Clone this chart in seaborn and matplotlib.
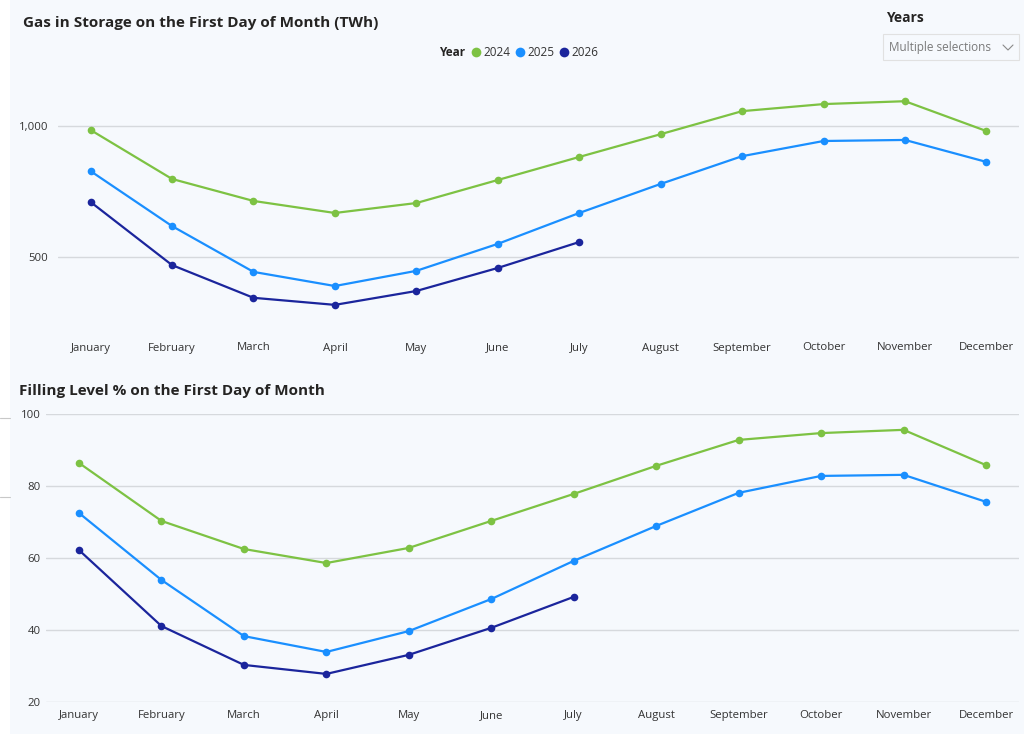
import numpy as np
import pandas as pd
import matplotlib.pyplot as plt
import matplotlib.patches as mpatches
from matplotlib.lines import Line2D
import seaborn as sns

months = ['January', 'February', 'March', 'April', 'May', 'June', 'July',
          'August', 'September', 'October', 'November', 'December']
years = ['2024', '2025', '2026']

# gas in storage, TWh
twh_2024 = [985, 798, 714, 668, 706, 794, 882, 969, 1057, 1084, 1095, 981]
twh_2025 = [828, 618, 443, 389, 447, 550, 668, 779, 885, 943, 947, 863]
twh_2026 = [710, 469, 344, 317, 370, 458, 557]

# filling level %
pct_2024 = [86.4, 70.3, 62.5, 58.6, 62.8, 70.3, 77.8, 85.6, 92.8, 94.7, 95.6, 85.8]
pct_2025 = [72.5, 53.9, 38.3, 33.9, 39.7, 48.6, 59.2, 68.9, 78.1, 82.8, 83.1, 75.6]
pct_2026 = [62.2, 41.1, 30.3, 27.8, 33.1, 40.6, 49.2]

colors = {'2024': '#7DC243', '2025': '#1A8FFF', '2026': '#1B259C'}
bg = '#F6F9FD'

rows = []
for yr, tw, pc in [('2024', twh_2024, pct_2024), ('2025', twh_2025, pct_2025),
                   ('2026', twh_2026, pct_2026)]:
    for i in range(len(tw)):
        rows.append({'month': months[i], 'year': yr, 'twh': tw[i], 'pct': pc[i]})
df = pd.DataFrame(rows)

sns.set_style('white')
plt.rcParams['font.family'] = ['Open Sans', 'DejaVu Sans']

W, H = 1024, 734
fig = plt.figure(figsize=(W / 100, H / 100), dpi=100, facecolor=bg)
fig.add_artist(mpatches.Rectangle((0, 0), 10 / W, 1, transform=fig.transFigure,
                                  facecolor='white', edgecolor='none', zorder=0))
for yy in [418, 497]:
    fig.add_artist(Line2D([0, 10 / W], [1 - yy / H, 1 - yy / H], transform=fig.transFigure,
                          color='#C8C8C8', lw=0.8))


def px_axes(x0, y0, x1, y1):
    return fig.add_axes([x0 / W, 1 - y1 / H, (x1 - x0) / W, (y1 - y0) / H])


ax1 = px_axes(58, 80, 1019, 330)
ax2 = px_axes(46, 414, 1019, 702)

for ax, col in [(ax1, 'twh'), (ax2, 'pct')]:
    ax.set_facecolor(bg)
    sns.lineplot(data=df, x='month', y=col, hue='year', palette=colors, marker='o',
                 markersize=5.5, markeredgewidth=0, linewidth=1.6, sort=False,
                 legend=False, ax=ax)
    ax.set_xlim(-0.4, 11.4)
    ax.set_xlabel('')
    ax.set_ylabel('')
    for s in ax.spines.values():
        s.set_visible(False)
    ax.grid(axis='y', color='#D6D9DD', lw=1)
    ax.set_axisbelow(True)
    ax.tick_params(axis='both', length=0, labelsize=8.2, labelcolor='#333333')

ax1.set_ylim(221, 1176)
ax1.set_yticks([500, 1000])
ax1.set_yticklabels(['500', '1,000'])
ax1.tick_params(axis='y', pad=7)
ax1.tick_params(axis='x', pad=9)

ax2.set_ylim(20, 100)
ax2.set_yticks([20, 40, 60, 80, 100])
ax2.tick_params(axis='y', pad=4)
ax2.tick_params(axis='x', pad=6)

fig.text(23 / W, 1 - 23 / H, 'Gas in Storage on the First Day of Month (TWh)',
         fontsize=11, fontweight='bold', color='#252423', va='center', ha='left')
fig.text(19 / W, 1 - 391 / H, 'Filling Level % on the First Day of Month',
         fontsize=11, fontweight='bold', color='#252423', va='center', ha='left')

# legend
fig.text(439 / W, 1 - 52 / H, 'Year', fontsize=8.5, fontweight='bold',
         color='#252423', va='center', ha='left')
for yr, xd in zip(years, [476, 520, 564]):
    fig.add_artist(Line2D([xd / W], [1 - 52 / H], transform=fig.transFigure, marker='o',
                          markersize=7, markeredgewidth=0, color=colors[yr], lw=0))
    fig.text((xd + 7) / W, 1 - 52 / H, yr, fontsize=8.5, color='#333333',
             va='center', ha='left')

# slicer
fig.text(886 / W, 1 - 18 / H, 'Years', fontsize=10, fontweight='bold',
         color='#252423', va='center', ha='left')
fig.add_artist(mpatches.Rectangle((883 / W, 1 - 60 / H), 136 / W, 26 / H,
                                  transform=fig.transFigure, facecolor=bg,
                                  edgecolor='#E1E1E1', lw=0.8))
fig.text(889 / W, 1 - 47 / H, 'Multiple selections', fontsize=8.5, color='#7A7A7A',
         va='center', ha='left')
fig.add_artist(Line2D([1003 / W, 1008 / W, 1013 / W],
                      [1 - 45 / H, 1 - 50 / H, 1 - 45 / H],
                      transform=fig.transFigure, color='#8A8A8A', lw=0.8))

fig.savefig('out.png', dpi=100, facecolor=bg)
